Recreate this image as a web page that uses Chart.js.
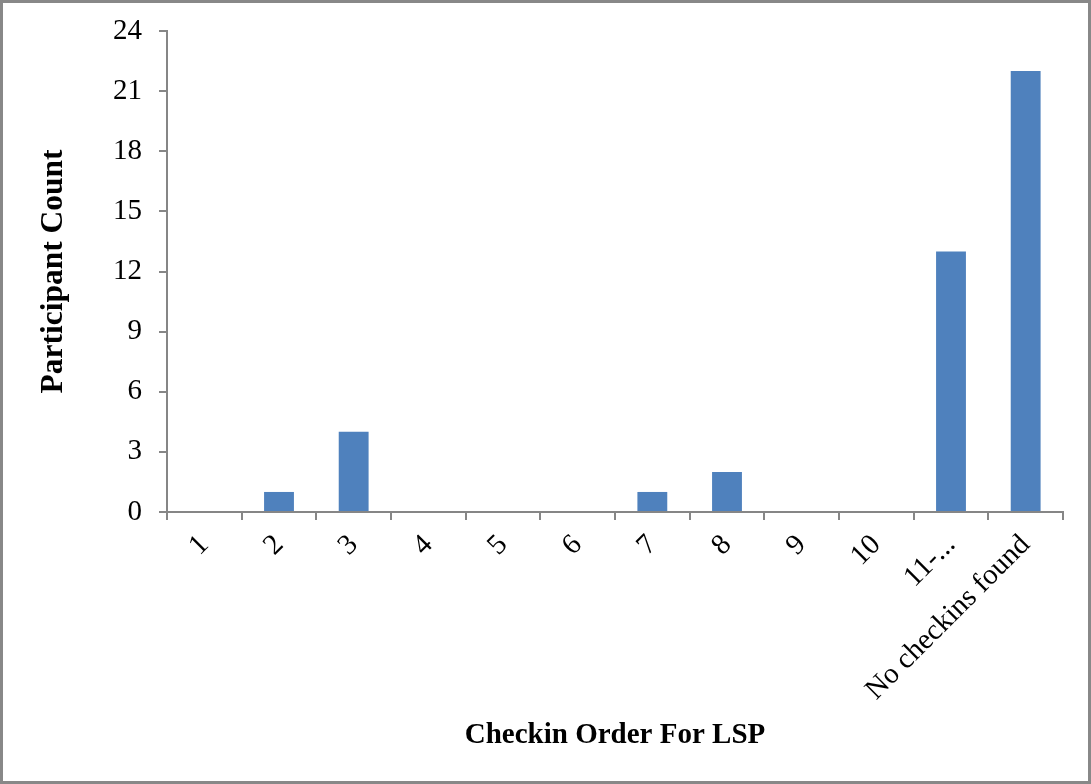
<!DOCTYPE html>
<html>
<head>
<meta charset="utf-8">
<script src="https://cdn.jsdelivr.net/npm/chart.js@4/dist/chart.umd.min.js"></script>
<style>
  html, body { margin: 0; padding: 0; background: #ffffff; }
  #wrap { width: 1091px; height: 784px; position: relative; }
</style>
</head>
<body>
<div id="wrap"><canvas id="chart" width="1091" height="784"></canvas></div>
<script>
// Checkin order categories and participant counts
const categories = ['1', '2', '3', '4', '5', '6', '7', '8', '9', '10', '11-...', 'No checkins found'];
const participantCounts = [0, 1, 4, 0, 0, 0, 1, 2, 0, 0, 13, 22];
const yTicks = [0, 3, 6, 9, 12, 15, 18, 21, 24];

const axisGray = '#868686';
const barBlue = '#4F81BD';
const serif = '"Liberation Serif", "Times New Roman", serif';

// Outer frame around the whole figure
const framePlugin = {
  id: 'frame',
  afterDraw(chart) {
    const ctx = chart.ctx;
    ctx.save();
    ctx.strokeStyle = '#888888';
    ctx.lineWidth = 3;
    ctx.strokeRect(1.5, 1.5, chart.width - 3, chart.height - 3);
    ctx.restore();
  }
};

new Chart(document.getElementById('chart'), {
  type: 'bar',
  data: {
    labels: categories,
    datasets: [{
      data: participantCounts,
      backgroundColor: barBlue,
      borderWidth: 0,
      categoryPercentage: 1.0,
      barPercentage: 0.4
    }]
  },
  options: {
    responsive: false,
    animation: false,
    layout: { padding: { top: 31, right: 28, left: 0, bottom: 0 } },
    plugins: {
      legend: { display: false },
      tooltip: { enabled: false }
    },
    scales: {
      x: {
        grid: {
          offset: true,
          drawOnChartArea: false,
          drawTicks: true,
          tickLength: 8,
          color: axisGray,
          lineWidth: 2
        },
        border: { display: true, color: axisGray, width: 2 },
        ticks: {
          color: '#000000',
          font: { family: serif, size: 29 },
          minRotation: 45,
          maxRotation: 45,
          autoSkip: false,
          padding: 8
        },
        title: {
          display: true,
          text: 'Checkin Order For LSP',
          color: '#000000',
          font: { family: serif, size: 29, weight: 'bold' },
          padding: { top: 0, bottom: 30.6 }
        },
        afterFit(scale) { scale.height = 784 - 512; }
      },
      y: {
        min: 0,
        max: 24,
        afterBuildTicks(scale) { scale.ticks = yTicks.map(v => ({ value: v })); },
        grid: {
          drawOnChartArea: false,
          drawTicks: true,
          tickLength: 8,
          color: axisGray,
          lineWidth: 2
        },
        border: { display: true, color: axisGray, width: 2 },
        ticks: {
          color: '#000000',
          font: { family: serif, size: 29, lineHeight: 0.9 },
          padding: 17
        },
        title: {
          display: true,
          text: 'Participant Count',
          color: '#000000',
          font: { family: serif, size: 31.5, weight: 'bold' },
          padding: { top: 35, bottom: 0 }
        },
        afterFit(scale) { scale.width = 167; }
      }
    }
  },
  plugins: [framePlugin]
});
</script>
</body>
</html>
